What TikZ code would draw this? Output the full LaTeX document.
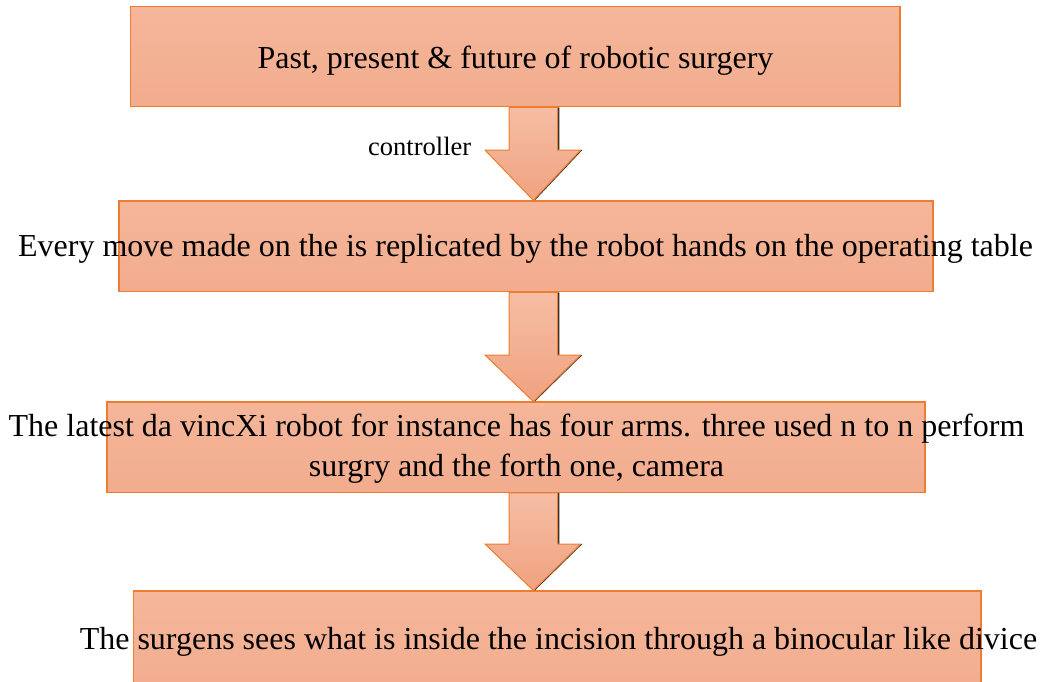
\documentclass[tikz,border=0pt]{standalone}
\usepackage{fontspec}
\setmainfont{Liberation Serif}
\usetikzlibrary{calc}
\definecolor{boxtop}{RGB}{245,182,154}
\definecolor{boxbot}{RGB}{242,172,142}
\definecolor{arrtop}{RGB}{246,190,164}
\definecolor{arrbot}{RGB}{240,162,128}
\definecolor{edgeor}{RGB}{237,125,49}
\tikzset{
  box/.style={rectangle, draw=edgeor, line width=1.2pt, top color=boxtop, bottom color=boxbot, inner sep=0pt},
  label32/.style={font=\fontsize{32}{40}\selectfont, anchor=base, inner sep=0pt, align=center, text=black},
  arrowbody/.style={draw=edgeor, line width=1pt, line join=miter, top color=arrtop, bottom color=arrbot},
  arrowshadow/.style={fill=black!85, draw=none}
}
\newcommand\flowarrow[3]{%
  \fill[arrowshadow] ($(509,0 |- #1.south)+(1.6,0)$) -- ($(557.7,0 |- #1.south)+(1.6,0)$) -- ($(557.7,#3)+(1.6,0)$) -- ($(580.7,#3)+(1.6,0)$) -- ($(533.3,0 |- #2.north)+(1.6,0)$) -- cycle;
  \path[arrowbody] (509,0 |- #1.south) -- (557.7,0 |- #1.south) -- (557.7,#3) -- (580.7,#3) -- (533.3,0 |- #2.north) -- (485,#3) -- (509,#3) -- cycle;
}
\begin{document}
\begin{tikzpicture}[x=1pt,y=-1pt]
\useasboundingbox (0,0) rectangle (1041,681);
\clip (0,0) rectangle (1041,681);
\node[box, minimum width=769.3pt, minimum height=100pt] (b1) at (515.4,56.7) {};
\node[box, minimum width=814pt, minimum height=90.7pt] (b2) at (526,246.3) {};
\node[box, minimum width=818pt, minimum height=90.3pt] (b3) at (516,447.2) {};
\node[box, minimum width=847.7pt, minimum height=110pt] (b4) at (557.2,646) {};
\flowarrow{b1}{b2}{150}
\flowarrow{b2}{b3}{355}
\flowarrow{b3}{b4}{544}
\node[label32] (t1) at (515.5,68.3) {Past, present \& future of robotic surgery};
\node[label32] (t2) at (525.5,256.7) {Every move made on the is replicated by the robot hands on the operating table};
\node[label32] (t3) at (516.5,476) {The latest da vincXi robot for instance has four arms. three used n to n perform\\surgry and the forth one, camera};
\node[label32] (t4) at (558.5,649) {The surgens sees what is inside the incision through a binocular like divice};
\node[font=\fontsize{26.5}{30}\selectfont, anchor=base, inner sep=0pt] (c1) at (419.7,155) {controller};
\end{tikzpicture}
\end{document}
